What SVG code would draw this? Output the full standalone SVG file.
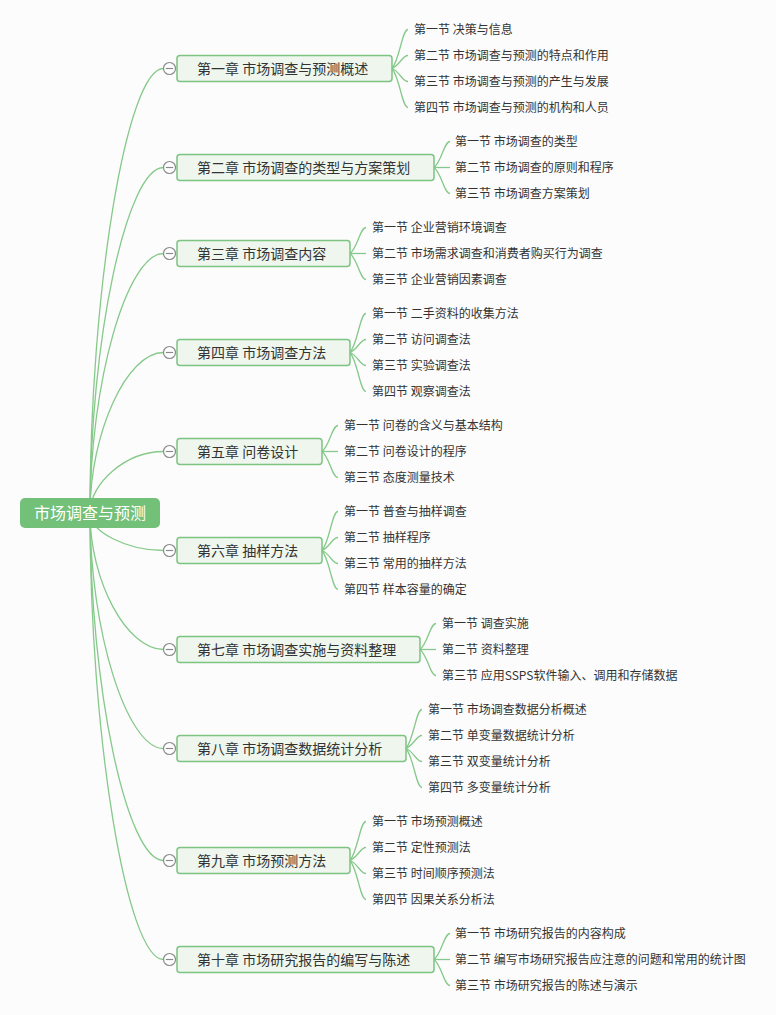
<svg xmlns="http://www.w3.org/2000/svg" width="776" height="1015" viewBox="0 0 776 1015">
<style>
text{font-family:"Noto Sans CJK SC",sans-serif;}
.ln{fill:none;stroke:#86c98a;stroke-width:1.3;}
.ch rect{fill:#eef6ee;stroke:#7cc480;stroke-width:1.5;}
.ch text.ct{font-size:14px;fill:#333;}
.tg circle{fill:#fff;stroke:#8a8a8a;stroke-width:1.2;}
.tg line{stroke:#8a8a8a;stroke-width:1.2;}
.ch text.lf{font-size:12px;fill:#333;}
</style>
<rect x="0" y="0" width="776" height="1015" fill="#fcfcfc"/>
<g id="connectors">
<path class="ln" d="M90,513 C90,290.75 126.75,68.5 163.5,68.5"/>
<path class="ln" d="M90,513 C90,340.25 126.75,167.5 163.5,167.5"/>
<path class="ln" d="M90,513 C90,383.25 126.75,253.5 163.5,253.5"/>
<path class="ln" d="M90,513 C90,432.75 126.75,352.5 163.5,352.5"/>
<path class="ln" d="M90,513 C90,482.25 126.75,451.5 163.5,451.5"/>
<path class="ln" d="M90,513 C90,531.75 126.75,550.5 163.5,550.5"/>
<path class="ln" d="M90,513 C90,581.25 126.75,649.5 163.5,649.5"/>
<path class="ln" d="M90,513 C90,630.75 126.75,748.5 163.5,748.5"/>
<path class="ln" d="M90,513 C90,686.75 126.75,860.5 163.5,860.5"/>
<path class="ln" d="M90,513 C90,736.25 126.75,959.5 163.5,959.5"/>
<path class="ln" d="M392,68.5 C400,58.75 402,29.5 408,29.5"/>
<path class="ln" d="M392,68.5 C400,65.25 402,55.5 408,55.5"/>
<path class="ln" d="M392,68.5 C400,71.75 402,81.5 408,81.5"/>
<path class="ln" d="M392,68.5 C400,78.25 402,107.5 408,107.5"/>
<path class="ln" d="M434,167.5 C442,161 444,141.5 450,141.5"/>
<path class="ln" d="M434,167.5 L450,167.5"/>
<path class="ln" d="M434,167.5 C442,174 444,193.5 450,193.5"/>
<path class="ln" d="M350,253.5 C358,247 360,227.5 366,227.5"/>
<path class="ln" d="M350,253.5 L366,253.5"/>
<path class="ln" d="M350,253.5 C358,260 360,279.5 366,279.5"/>
<path class="ln" d="M350,352.5 C358,342.75 360,313.5 366,313.5"/>
<path class="ln" d="M350,352.5 C358,349.25 360,339.5 366,339.5"/>
<path class="ln" d="M350,352.5 C358,355.75 360,365.5 366,365.5"/>
<path class="ln" d="M350,352.5 C358,362.25 360,391.5 366,391.5"/>
<path class="ln" d="M322,451.5 C330,445 332,425.5 338,425.5"/>
<path class="ln" d="M322,451.5 L338,451.5"/>
<path class="ln" d="M322,451.5 C330,458 332,477.5 338,477.5"/>
<path class="ln" d="M322,550.5 C330,540.75 332,511.5 338,511.5"/>
<path class="ln" d="M322,550.5 C330,547.25 332,537.5 338,537.5"/>
<path class="ln" d="M322,550.5 C330,553.75 332,563.5 338,563.5"/>
<path class="ln" d="M322,550.5 C330,560.25 332,589.5 338,589.5"/>
<path class="ln" d="M420,649.5 C428,643 430,623.5 436,623.5"/>
<path class="ln" d="M420,649.5 L436,649.5"/>
<path class="ln" d="M420,649.5 C428,656 430,675.5 436,675.5"/>
<path class="ln" d="M406,748.5 C414,738.75 416,709.5 422,709.5"/>
<path class="ln" d="M406,748.5 C414,745.25 416,735.5 422,735.5"/>
<path class="ln" d="M406,748.5 C414,751.75 416,761.5 422,761.5"/>
<path class="ln" d="M406,748.5 C414,758.25 416,787.5 422,787.5"/>
<path class="ln" d="M350,860.5 C358,850.75 360,821.5 366,821.5"/>
<path class="ln" d="M350,860.5 C358,857.25 360,847.5 366,847.5"/>
<path class="ln" d="M350,860.5 C358,863.75 360,873.5 366,873.5"/>
<path class="ln" d="M350,860.5 C358,870.25 360,899.5 366,899.5"/>
<path class="ln" d="M434,959.5 C442,953 444,933.5 450,933.5"/>
<path class="ln" d="M434,959.5 L450,959.5"/>
<path class="ln" d="M434,959.5 C442,966 444,985.5 450,985.5"/>
</g>
<g id="root">
<rect x="20" y="498" width="140" height="30" rx="5" fill="#73c079"/>
<text x="90" y="519" text-anchor="middle" font-size="16" fill="#fff">市场调查与预测</text>
</g>
<g id="ch1" class="ch">
<rect x="177" y="55.5" width="215" height="26" rx="3"/>
<text class="ct" x="197" y="73.5">第一章 市场调查与预测概述</text>
<g class="tg"><circle cx="169.5" cy="68.5" r="6"/><line x1="165.8" y1="68.5" x2="173.2" y2="68.5"/></g>
<text class="lf" x="414" y="34">第一节 决策与信息</text>
<text class="lf" x="414" y="60">第二节 市场调查与预测的特点和作用</text>
<text class="lf" x="414" y="86">第三节 市场调查与预测的产生与发展</text>
<text class="lf" x="414" y="112">第四节 市场调查与预测的机构和人员</text>
</g>
<g id="ch2" class="ch">
<rect x="177" y="154.5" width="257" height="26" rx="3"/>
<text class="ct" x="197" y="172.5">第二章 市场调查的类型与方案策划</text>
<g class="tg"><circle cx="169.5" cy="167.5" r="6"/><line x1="165.8" y1="167.5" x2="173.2" y2="167.5"/></g>
<text class="lf" x="455" y="146">第一节 市场调查的类型</text>
<text class="lf" x="455" y="172">第二节 市场调查的原则和程序</text>
<text class="lf" x="455" y="198">第三节 市场调查方案策划</text>
</g>
<g id="ch3" class="ch">
<rect x="177" y="240.5" width="173" height="26" rx="3"/>
<text class="ct" x="197" y="258.5">第三章 市场调查内容</text>
<g class="tg"><circle cx="169.5" cy="253.5" r="6"/><line x1="165.8" y1="253.5" x2="173.2" y2="253.5"/></g>
<text class="lf" x="372" y="232">第一节 企业营销环境调查</text>
<text class="lf" x="372" y="258">第二节 市场需求调查和消费者购买行为调查</text>
<text class="lf" x="372" y="284">第三节 企业营销因素调查</text>
</g>
<g id="ch4" class="ch">
<rect x="177" y="339.5" width="173" height="26" rx="3"/>
<text class="ct" x="197" y="357.5">第四章 市场调查方法</text>
<g class="tg"><circle cx="169.5" cy="352.5" r="6"/><line x1="165.8" y1="352.5" x2="173.2" y2="352.5"/></g>
<text class="lf" x="372" y="318">第一节 二手资料的收集方法</text>
<text class="lf" x="372" y="344">第二节 访问调查法</text>
<text class="lf" x="372" y="370">第三节 实验调查法</text>
<text class="lf" x="372" y="396">第四节 观察调查法</text>
</g>
<g id="ch5" class="ch">
<rect x="177" y="438.5" width="145" height="26" rx="3"/>
<text class="ct" x="197" y="456.5">第五章 问卷设计</text>
<g class="tg"><circle cx="169.5" cy="451.5" r="6"/><line x1="165.8" y1="451.5" x2="173.2" y2="451.5"/></g>
<text class="lf" x="344" y="430">第一节 问卷的含义与基本结构</text>
<text class="lf" x="344" y="456">第二节 问卷设计的程序</text>
<text class="lf" x="344" y="482">第三节 态度测量技术</text>
</g>
<g id="ch6" class="ch">
<rect x="177" y="537.5" width="145" height="26" rx="3"/>
<text class="ct" x="197" y="555.5">第六章 抽样方法</text>
<g class="tg"><circle cx="169.5" cy="550.5" r="6"/><line x1="165.8" y1="550.5" x2="173.2" y2="550.5"/></g>
<text class="lf" x="344" y="516">第一节 普查与抽样调查</text>
<text class="lf" x="344" y="542">第二节 抽样程序</text>
<text class="lf" x="344" y="568">第三节 常用的抽样方法</text>
<text class="lf" x="344" y="594">第四节 样本容量的确定</text>
</g>
<g id="ch7" class="ch">
<rect x="177" y="636.5" width="243" height="26" rx="3"/>
<text class="ct" x="197" y="654.5">第七章 市场调查实施与资料整理</text>
<g class="tg"><circle cx="169.5" cy="649.5" r="6"/><line x1="165.8" y1="649.5" x2="173.2" y2="649.5"/></g>
<text class="lf" x="442" y="628">第一节 调查实施</text>
<text class="lf" x="442" y="654">第二节 资料整理</text>
<text class="lf" x="442" y="680">第三节 应用SSPS软件输入、调用和存储数据</text>
</g>
<g id="ch8" class="ch">
<rect x="177" y="735.5" width="229" height="26" rx="3"/>
<text class="ct" x="197" y="753.5">第八章 市场调查数据统计分析</text>
<g class="tg"><circle cx="169.5" cy="748.5" r="6"/><line x1="165.8" y1="748.5" x2="173.2" y2="748.5"/></g>
<text class="lf" x="428" y="714">第一节 市场调查数据分析概述</text>
<text class="lf" x="428" y="740">第二节 单变量数据统计分析</text>
<text class="lf" x="428" y="766">第三节 双变量统计分析</text>
<text class="lf" x="428" y="792">第四节 多变量统计分析</text>
</g>
<g id="ch9" class="ch">
<rect x="177" y="847.5" width="173" height="26" rx="3"/>
<text class="ct" x="197" y="865.5">第九章 市场预测方法</text>
<g class="tg"><circle cx="169.5" cy="860.5" r="6"/><line x1="165.8" y1="860.5" x2="173.2" y2="860.5"/></g>
<text class="lf" x="372" y="826">第一节 市场预测概述</text>
<text class="lf" x="372" y="852">第二节 定性预测法</text>
<text class="lf" x="372" y="878">第三节 时间顺序预测法</text>
<text class="lf" x="372" y="904">第四节 因果关系分析法</text>
</g>
<g id="ch10" class="ch">
<rect x="177" y="946.5" width="257" height="26" rx="3"/>
<text class="ct" x="197" y="964.5">第十章 市场研究报告的编写与陈述</text>
<g class="tg"><circle cx="169.5" cy="959.5" r="6"/><line x1="165.8" y1="959.5" x2="173.2" y2="959.5"/></g>
<text class="lf" x="455" y="938">第一节 市场研究报告的内容构成</text>
<text class="lf" x="455" y="964">第二节 编写市场研究报告应注意的问题和常用的统计图</text>
<text class="lf" x="455" y="990">第三节 市场研究报告的陈述与演示</text>
</g>
</svg>
